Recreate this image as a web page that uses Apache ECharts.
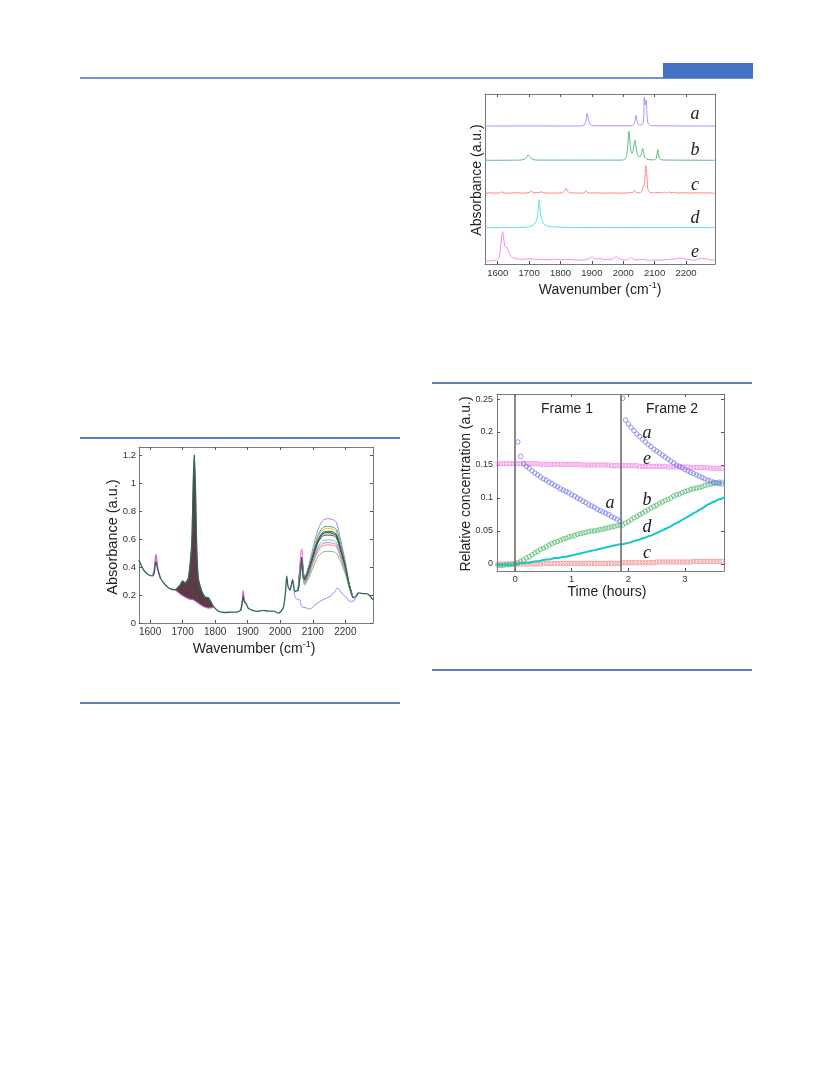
<!DOCTYPE html>
<html><head><meta charset="utf-8">
<script src="https://cdn.jsdelivr.net/npm/echarts@6/dist/echarts.min.js"></script>
<style>
html,body{margin:0;padding:0;background:#fff;}
#c{position:absolute;left:0;top:0;width:833px;height:1091px;}
.rule{position:absolute;background:#5a7fc6;}
</style></head><body>
<div class="rule" style="left:80px;top:77px;width:673px;height:2px;background:#7093cf"></div>
<div class="rule" style="left:663px;top:63px;width:90px;height:15px;background:#4472c4"></div>
<div class="rule" style="left:80px;top:437px;width:320px;height:1.5px"></div>
<div class="rule" style="left:80px;top:702px;width:320px;height:1.5px"></div>
<div class="rule" style="left:432px;top:382px;width:320px;height:1.5px"></div>
<div class="rule" style="left:432px;top:669px;width:320px;height:1.5px"></div>
<div id="c"></div>
<script>
// ---------------- Chart 1: reference spectra (offset) ----------------
const specAWn = [1560,1700,1860,1872,1878,1882,1885,1888,1892,1898,1910,2020,2030,2036,2039,2041,2043,2047,2052,2058,2062,2065,2067,2070,2073,2075,2078,2083,2090,2100,2292];
const specAAbs = [0,0.001,0,0.005,0.02,0.07,0.127,0.08,0.025,0.008,0.002,0.002,0.006,0.03,0.08,0.11,0.07,0.02,0.01,0.012,0.02,0.06,0.287,0.21,0.262,0.15,0.04,0.012,0.005,0.002,0];
const specBWn = [1560,1670,1685,1692,1697,1702,1708,1716,1730,1990,2005,2011,2015,2018,2021,2024,2028,2032,2035,2037,2040,2044,2050,2055,2059,2062,2065,2069,2075,2085,2100,2105,2108,2110,2112,2115,2120,2130,2292];
const specBAbs = [0,0.002,0.01,0.03,0.055,0.04,0.015,0.005,0.002,0.002,0.01,0.05,0.17,0.29,0.2,0.1,0.07,0.1,0.18,0.2,0.15,0.07,0.035,0.04,0.08,0.117,0.08,0.03,0.012,0.006,0.005,0.02,0.07,0.107,0.07,0.02,0.006,0.003,0];
const specCWn = [1560,1575,1590,1605,1613,1620,1640,1660,1680,1700,1708,1716,1730,1740,1750,1770,1790,1805,1813,1818,1823,1830,1850,1870,1878,1881,1885,1900,1920,1940,1960,1980,2000,2020,2032,2037,2040,2050,2058,2062,2064,2066,2069,2072,2075,2078,2085,2100,2115,2125,2132,2138,2145,2152,2160,2175,2190,2210,2230,2250,2270,2292];
const specCAbs = [0,0.005,0.002,0.004,0.014,0.003,0.002,0.006,0.001,0.008,0.02,0.006,0.008,0.014,0.004,0.002,0.003,0.004,0.025,0.05,0.02,0.004,0.003,0.002,0.012,0.027,0.008,0.003,0.004,0.001,0.004,0.002,0.003,0.005,0.012,0.03,0.01,0.004,0.015,0.05,0.077,0.07,0.15,0.277,0.2,0.05,0.01,0.004,0.01,0.003,0.012,0.004,0.014,0.005,0.01,0.003,0.006,0.002,0.005,0.003,0.004,0];
const specDWn = [1560,1650,1690,1705,1713,1720,1725,1728,1730,1732,1734,1736,1739,1744,1750,1760,1775,1800,1850,1950,2100,2292];
const specDAbs = [0,0.002,0.006,0.014,0.025,0.05,0.09,0.15,0.22,0.28,0.24,0.16,0.095,0.05,0.03,0.016,0.009,0.005,0.002,0.001,0.002,0];
const specEWn = [1560,1575,1590,1600,1606,1610,1613,1616,1619,1622,1626,1630,1634,1640,1648,1660,1680,1700,1720,1745,1770,1780,1800,1830,1860,1880,1894,1900,1906,1914,1924,1934,1950,1965,1973,1978,1984,1995,2010,2020,2025,2031,2045,2060,2080,2100,2120,2140,2160,2175,2185,2195,2210,2225,2240,2252,2265,2280,2292];
const specEAbs = [-0.015,-0.01,-0.005,0.005,0.04,0.15,0.25,0.283,0.22,0.15,0.125,0.128,0.09,0.05,0.025,0.012,0.008,0.012,0.007,0.004,0.003,0.01,0.003,0.005,-0.003,0.002,0.02,0.032,0.015,0.008,0.018,0.008,0.003,0.01,0.025,0.04,0.02,0.005,0,0.015,0.025,0.01,0,0.008,-0.005,0,-0.003,0.005,0.008,0.015,0.02,0.012,0.003,-0.002,0.01,0.016,0.01,0.002,-0.003];
const specNames = ['a','b','c','d','e'];
const specOffsets = [1.38, 1.037, 0.707, 0.363, 0.04];
const specColors = ['#9a9aff','#5cba7c','#ff8585','#5fdede','#ff8ae6'];

// ---------------- Chart 2: measured spectra ----------------
const ftirWn = [1566,1580,1595,1608,1613,1618,1624,1632,1646,1661,1677,1692,1700,1707,1718,1728,1733,1736,1740,1743,1748,1759,1769,1779,1785,1794,1810,1830,1850,1870,1880,1886,1890,1895,1902,1915,1930,1948,1965,1979,1994,2009,2016,2020,2024,2030,2038,2045,2055,2062,2066,2070,2075,2085,2100,2115,2130,2145,2160,2172,2185,2200,2212,2224,2232,2240,2255,2270,2285];
const ftirMain = [0.45,0.38,0.345,0.337,0.36,0.44,0.38,0.32,0.275,0.245,0.237,0.27,0.30,0.285,0.32,0.56,1.03,1.20,0.91,0.56,0.32,0.225,0.185,0.18,0.16,0.12,0.085,0.075,0.078,0.08,0.10,0.19,0.15,0.14,0.105,0.09,0.083,0.09,0.085,0.085,0.07,0.107,0.22,0.335,0.26,0.235,0.31,0.225,0.237,0.36,0.46,0.33,0.31,0.36,0.47,0.58,0.635,0.645,0.64,0.625,0.53,0.40,0.27,0.18,0.19,0.215,0.21,0.205,0.165];
const bandWn = [1677,1697,1718,1733,1748,1764,1779,1794];
const bandLow = [0.237,0.20,0.173,0.166,0.142,0.118,0.107,0.11];
const humpWn = [2055,2066,2075,2085,2100,2115,2130,2145,2160,2172,2185,2200,2212,2224];
const humpBlue = [0.24,0.45,0.33,0.39,0.53,0.66,0.73,0.745,0.74,0.72,0.60,0.44,0.28,0.18];
const humpGreen = [0.24,0.47,0.32,0.38,0.50,0.62,0.68,0.69,0.685,0.67,0.57,0.42,0.28,0.18];
const humpYellow = [0.235,0.46,0.315,0.37,0.49,0.61,0.665,0.675,0.67,0.655,0.555,0.41,0.275,0.18];
const humpDark1 = [0.237,0.47,0.315,0.365,0.48,0.59,0.645,0.655,0.652,0.635,0.54,0.405,0.272,0.18];
const humpDark2 = [0.235,0.44,0.305,0.355,0.46,0.57,0.62,0.628,0.625,0.61,0.52,0.395,0.268,0.18];
const humpCyan = [0.23,0.42,0.29,0.34,0.44,0.54,0.585,0.594,0.59,0.575,0.49,0.375,0.26,0.18];
const humpPink = [0.23,0.53,0.29,0.33,0.43,0.525,0.565,0.575,0.57,0.56,0.48,0.37,0.26,0.18];
const humpRed = [0.225,0.44,0.28,0.325,0.42,0.51,0.55,0.558,0.555,0.545,0.47,0.365,0.255,0.18];
const humpGreenLow = [0.225,0.41,0.27,0.31,0.39,0.47,0.505,0.512,0.51,0.50,0.44,0.35,0.25,0.18];
const blueOutWn = [2030,2038,2045,2055,2060,2066,2081,2091,2107,2122,2137,2153,2168,2175,2189,2204,2214,2224,2232,2240];
const blueOutAbs = [0.235,0.30,0.19,0.166,0.166,0.118,0.107,0.10,0.13,0.154,0.173,0.19,0.225,0.25,0.214,0.178,0.155,0.155,0.18,0.21];
const pinkPeak1Wn = [1608,1613,1618,1624,1632];
const pinkPeak1Abs = [0.337,0.39,0.49,0.39,0.32];
const pinkPeak2Wn = [1878,1883,1886,1890,1895];
const pinkPeak2Abs = [0.085,0.15,0.23,0.16,0.14];

// ---------------- Chart 3: relative concentrations ----------------
const frameBounds = [0, 1.87];
const t1 = [-0.30,-0.25,-0.20,-0.15,-0.10,-0.05,0.00,0.05,0.10,0.15,0.20,0.25,0.30,0.35,0.40,0.45,0.50,0.55,0.60,0.65,0.70,0.75,0.80,0.85,0.90,0.95,1.00,1.05,1.10,1.15,1.20,1.25,1.30,1.35,1.40,1.45,1.50,1.55,1.60,1.65,1.70,1.75,1.80,1.85];
const t2 = [1.90,1.95,2.00,2.05,2.10,2.15,2.20,2.25,2.30,2.35,2.40,2.45,2.50,2.55,2.60,2.65,2.70,2.75,2.80,2.85,2.90,2.95,3.00,3.05,3.10,3.15,3.20,3.25,3.30,3.35,3.40,3.45,3.50,3.55,3.60,3.65,3.70];
const concA1 = [null,null,null,null,null,null,null,0.185,0.163,0.152,0.148,0.145,0.141,0.138,0.135,0.132,0.129,0.127,0.124,0.122,0.119,0.117,0.114,0.112,0.110,0.108,0.105,0.103,0.100,0.098,0.095,0.093,0.090,0.088,0.086,0.083,0.081,0.079,0.077,0.075,0.072,0.070,0.068,0.065];
const concA2 = [0.251,0.218,0.212,0.207,0.202,0.197,0.193,0.189,0.185,0.181,0.178,0.174,0.171,0.168,0.165,0.162,0.159,0.156,0.153,0.150,0.148,0.146,0.143,0.141,0.139,0.137,0.135,0.133,0.131,0.129,0.127,0.126,0.124,0.123,0.122,0.121,0.120];
const concB1 = [-0.002,-0.002,-0.002,-0.001,-0.001,0.000,0.000,0.002,0.004,0.006,0.009,0.011,0.014,0.017,0.019,0.022,0.024,0.026,0.029,0.031,0.033,0.034,0.036,0.038,0.039,0.041,0.042,0.043,0.045,0.046,0.047,0.048,0.049,0.050,0.050,0.051,0.052,0.053,0.054,0.055,0.056,0.057,0.058,0.059];
const concB2 = [0.059,0.062,0.064,0.067,0.070,0.072,0.075,0.077,0.080,0.082,0.085,0.087,0.089,0.092,0.094,0.096,0.098,0.100,0.103,0.105,0.106,0.108,0.110,0.111,0.113,0.114,0.115,0.116,0.117,0.119,0.120,0.121,0.122,0.123,0.124,0.124,0.125];
const concC1 = [0,0,0,0,0,0,0,0,0,0,0,0,0,0,0,0,0.001,0.001,0.001,0.001,0.001,0.001,0.001,0.001,0.001,0.001,0.001,0.001,0.001,0.001,0.001,0.001,0.001,0.001,0.001,0.001,0.001,0.001,0.001,0.001,0.001,0.001,0.001,0.001];
const concC2 = [0.002,0.002,0.002,0.002,0.002,0.002,0.002,0.002,0.002,0.002,0.002,0.002,0.003,0.003,0.003,0.003,0.003,0.003,0.003,0.003,0.003,0.003,0.003,0.003,0.003,0.004,0.004,0.004,0.004,0.004,0.004,0.004,0.004,0.004,0.004,0.004,0.004];
const concD1 = [-0.001,-0.001,-0.001,-0.001,-0.001,-0.001,0.000,0.000,0.001,0.001,0.002,0.002,0.003,0.004,0.004,0.005,0.006,0.007,0.007,0.008,0.009,0.009,0.010,0.011,0.011,0.012,0.013,0.014,0.015,0.016,0.017,0.018,0.019,0.020,0.021,0.022,0.023,0.024,0.025,0.026,0.027,0.028,0.029,0.030];
const concD2 = [0.030,0.031,0.032,0.033,0.035,0.036,0.037,0.039,0.040,0.042,0.043,0.045,0.047,0.049,0.051,0.053,0.055,0.057,0.060,0.062,0.064,0.067,0.069,0.072,0.074,0.077,0.079,0.082,0.084,0.087,0.090,0.092,0.094,0.096,0.098,0.099,0.101];
const concE1 = [0.152,0.152,0.152,0.152,0.152,0.152,0.152,0.152,0.152,0.152,0.152,0.152,0.152,0.152,0.152,0.151,0.151,0.151,0.151,0.151,0.151,0.151,0.151,0.151,0.151,0.151,0.151,0.151,0.151,0.151,0.150,0.150,0.150,0.150,0.150,0.150,0.150,0.150,0.150,0.150,0.149,0.149,0.149,0.149];
const concE2 = [0.149,0.149,0.149,0.149,0.149,0.149,0.148,0.148,0.148,0.148,0.148,0.148,0.148,0.148,0.148,0.148,0.147,0.147,0.147,0.147,0.147,0.147,0.147,0.147,0.146,0.146,0.146,0.146,0.146,0.146,0.146,0.145,0.145,0.145,0.145,0.145,0.145];

// tick label values
const wnTicks = [1600,1700,1800,1900,2000,2100,2200];
const absTicks = [0,0.2,0.4,0.6,0.8,1,1.2];
const timeTicks = [0,1,2,3];
const concTicks = [0,0.05,0.1,0.15,0.2,0.25];

// ---------------- helpers ----------------
const FONT = '"Liberation Sans", Arial, Helvetica, sans-serif';
const SERIF = '"Liberation Serif", "DejaVu Serif", serif';
const frameColor = '#7a7a7a', tickColor = '#555', labelColor = '#333';
const pairs = (xs, ys, off) => xs.map((x, i) => (ys[i] == null ? null : [x, ys[i] + (off || 0)])).filter(p => p);
const plain = v => String(v);

function xPair(gi, min, max, ticks, fs, margin) {
  const line = {show: true, onZero: false, lineStyle: {color: frameColor, width: 1}};
  return [
    {gridIndex: gi, type: 'value', position: 'bottom', min, max, axisLine: line,
     axisTick: {show: true, inside: true, length: 3, customValues: ticks, lineStyle: {color: tickColor}},
     axisLabel: {show: true, customValues: ticks, fontSize: fs, color: labelColor, fontFamily: FONT, margin, formatter: plain},
     splitLine: {show: false}},
    {gridIndex: gi, type: 'value', position: 'top', min, max, axisLine: line,
     axisTick: {show: true, inside: true, length: 3, customValues: ticks, lineStyle: {color: tickColor}},
     axisLabel: {show: false}, splitLine: {show: false}}
  ];
}
function yPair(gi, min, max, ticks, fs, margin) {
  const line = {show: true, onZero: false, lineStyle: {color: frameColor, width: 1}};
  const has = ticks.length > 0;
  return [
    {gridIndex: gi, type: 'value', position: 'left', min, max, axisLine: line,
     axisTick: {show: has, inside: true, length: 3, customValues: has ? ticks : undefined, lineStyle: {color: tickColor}},
     axisLabel: {show: has, customValues: has ? ticks : undefined, fontSize: fs, color: labelColor, fontFamily: FONT, margin, formatter: plain},
     splitLine: {show: false}},
    {gridIndex: gi, type: 'value', position: 'right', min, max, axisLine: line,
     axisTick: {show: has, inside: true, length: 3, customValues: has ? ticks : undefined, lineStyle: {color: tickColor}},
     axisLabel: {show: false}, splitLine: {show: false}}
  ];
}

const series = [];
// chart 1
const specWn = [specAWn, specBWn, specCWn, specDWn, specEWn];
const specAbs = [specAAbs, specBAbs, specCAbs, specDAbs, specEAbs];
specNames.forEach((n, i) => {
  series.push({type: 'line', name: 'ref-' + n, xAxisIndex: 0, yAxisIndex: 0, data: pairs(specWn[i], specAbs[i], specOffsets[i]),
    showSymbol: false, smooth: 0.3, lineStyle: {color: specColors[i], width: 1}, z: 3});
});

// chart 2
const bandUpper = ftirWn.map((w, i) => [w, ftirMain[i]]).filter(p => p[0] >= bandWn[0] && p[0] <= bandWn[bandWn.length - 1]);
const bandLower = pairs(bandWn, bandLow).reverse();
series.push({type: 'custom', name: 'band', xAxisIndex: 2, yAxisIndex: 2, data: [[bandWn[0], 0]], silent: true, z: 1,
  renderItem: (params, api) => ({type: 'polygon', shape: {points: bandUpper.concat(bandLower).map(p => api.coord(p))},
    style: {fill: '#5d3b46', stroke: '#5d3b46', lineWidth: 0.5}})});
const humps = [[humpBlue, '#8c8cff'], [humpGreen, '#3fa868'], [humpYellow, '#c9c24a'], [humpDark1, '#2f4a3a'], [humpDark2, '#3a3a3a'],
               [humpCyan, '#4fd0d0'], [humpPink, '#e86bd8'], [humpRed, '#f38080'], [humpGreenLow, '#6cc08a']];
humps.forEach(([vals, col], i) => series.push({type: 'line', name: 'hump' + i, xAxisIndex: 2, yAxisIndex: 2, data: pairs(humpWn, vals),
  showSymbol: false, smooth: 0.3, lineStyle: {color: col, width: 1}, z: 2}));
series.push({type: 'line', name: 'blueOut', xAxisIndex: 2, yAxisIndex: 2, data: pairs(blueOutWn, blueOutAbs), showSymbol: false, smooth: 0.3,
  lineStyle: {color: '#8c8cff', width: 1}, z: 2});
series.push({type: 'line', name: 'pinkLow', xAxisIndex: 2, yAxisIndex: 2, data: pairs(bandWn, bandLow), showSymbol: false, smooth: 0.3,
  lineStyle: {color: '#d85cc8', width: 1}, z: 2});
series.push({type: 'line', name: 'pinkP1', xAxisIndex: 2, yAxisIndex: 2, data: pairs(pinkPeak1Wn, pinkPeak1Abs), showSymbol: false, smooth: 0.3,
  lineStyle: {color: '#e050d0', width: 1.2}, z: 2});
series.push({type: 'line', name: 'pinkP2', xAxisIndex: 2, yAxisIndex: 2, data: pairs(pinkPeak2Wn, pinkPeak2Abs), showSymbol: false, smooth: 0.3,
  lineStyle: {color: '#e050d0', width: 1.2}, z: 2});
series.push({type: 'line', name: 'main', xAxisIndex: 2, yAxisIndex: 2, data: pairs(ftirWn, ftirMain), showSymbol: false, smooth: 0.25,
  lineStyle: {color: '#2f6858', width: 1.3}, z: 3});

// chart 3
const circ = (name, data, col, z) => ({type: 'scatter', name, xAxisIndex: 4, yAxisIndex: 4, data, symbol: 'circle', symbolSize: 4.5,
  itemStyle: {color: 'rgba(0,0,0,0)', borderColor: col, borderWidth: 0.9}, z: z || 3, silent: true});
series.push(circ('c', pairs(t1, concC1).concat(pairs(t2, concC2)), '#f08585'));
series.push(circ('e', pairs(t1, concE1).concat(pairs(t2, concE2)), '#f07ae2'));
series.push(circ('b', pairs(t1, concB1).concat(pairs(t2, concB2)), '#45b567'));
const aSeries = circ('a', pairs(t1, concA1).concat(pairs(t2, concA2)), '#7070f0');
aSeries.markLine = {silent: true, symbol: 'none', label: {show: false}, animation: false,
  lineStyle: {color: '#6e6e6e', width: 1.6, type: 'solid'}, data: frameBounds.map(v => ({xAxis: v}))};
series.push(aSeries);
series.push({type: 'line', name: 'd', xAxisIndex: 4, yAxisIndex: 4, data: pairs(t1.concat(t2), concD1.concat(concD2)), showSymbol: false,
  smooth: false, lineStyle: {color: '#16c8c8', width: 2}, z: 4});

// text labels
const txt = (x, y, text, font, rot) => ({type: 'text', x, y, rotation: rot || 0, silent: true,
  style: {text, font, fill: '#222', align: 'center', verticalAlign: 'middle'}});
const wnTitle = (x, y) => ({type: 'text', x, y, silent: true,
  style: {text: '{n|Wavenumber (cm}{s|-1}{n|)}', align: 'center', verticalAlign: 'middle',
    rich: {n: {fontSize: 14, fontFamily: FONT, fill: '#222', lineHeight: 18}, s: {fontSize: 9, fontFamily: FONT, fill: '#222', verticalAlign: 'top', lineHeight: 18}}}});
const graphics = [
  wnTitle(600, 290), txt(477, 180, 'Absorbance (a.u.)', '14px ' + FONT, Math.PI / 2),
  wnTitle(254, 649), txt(113, 537, 'Absorbance (a.u.)', '14.5px ' + FONT, Math.PI / 2),
  txt(607, 592, 'Time (hours)', '14px ' + FONT), txt(466, 484, 'Relative concentration (a.u.)', '14px ' + FONT, Math.PI / 2),
  txt(567, 409, 'Frame 1', '14px ' + FONT), txt(672, 409, 'Frame 2', '14px ' + FONT)
];
const letter = (x, y, s) => txt(x, y, s, 'italic 18px ' + SERIF);
[['a', 114], ['b', 150], ['c', 185], ['d', 218], ['e', 252]].forEach(([s, y]) => graphics.push(letter(695, y, s)));
[['a', 647, 433], ['e', 647, 459], ['a', 610, 503], ['b', 647, 500], ['d', 647, 527], ['c', 647, 553]].forEach(([s, x, y]) => graphics.push(letter(x, y, s)));

const chart = echarts.init(document.getElementById('c'), null, {renderer: 'canvas'});
chart.setOption({
  animation: false,
  grid: [
    {left: 485, top: 94, width: 230, height: 170},
    {left: 139, top: 447, width: 234, height: 176},
    {left: 497, top: 394, width: 227, height: 177}
  ],
  xAxis: [].concat(xPair(0, 1559.5, 2292.4, wnTicks, 9.5, 4), xPair(1, 1566, 2285, wnTicks, 10, 4), xPair(2, -0.318, 3.688, timeTicks, 9.5, 3)),
  yAxis: [].concat(yPair(0, 0, 1.7, [], 9, 4), yPair(1, 0, 1.257, absTicks, 9.5, 3), yPair(2, -0.0106, 0.2576, concTicks, 9, 4)),
  series,
  graphic: graphics
});
</script>
</body></html>
